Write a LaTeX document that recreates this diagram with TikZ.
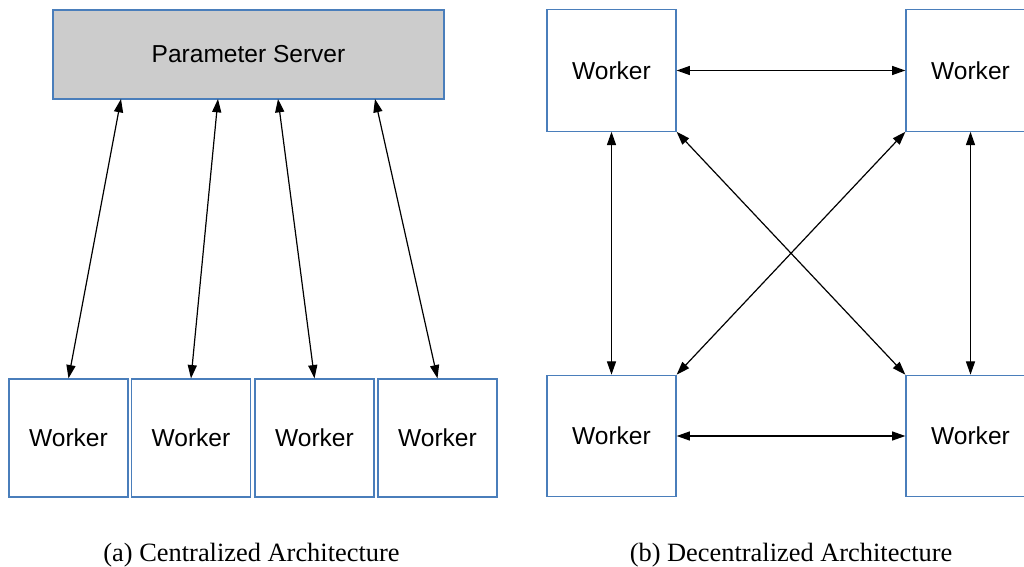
\documentclass[tikz,border=0pt]{standalone}
\usepackage{fontspec}
\setmainfont{Liberation Serif}
\newfontfamily\boxfont{Liberation Sans}
\usetikzlibrary{arrows.meta}
\definecolor{boxblue}{RGB}{74,126,187}
\definecolor{servergray}{RGB}{204,204,204}
\tikzset{
  unitbox/.style={draw=boxblue, line width=0.95pt, inner sep=0pt,
    font=\boxfont\fontsize{18.4}{22}\selectfont},
  workerbox/.style={unitbox, minimum width=89.25pt, minimum height=88.5pt},
  peerbox/.style={unitbox, minimum width=96.75pt, minimum height=91pt},
  serverbox/.style={unitbox, fill=servergray, minimum width=293.25pt, minimum height=66.75pt},
  link/.style={line width=0.9pt, {Triangle[length=10pt,width=6.8pt]}-{Triangle[length=10pt,width=6.8pt]}},
  caption/.style={anchor=base, font=\fontsize{19.8}{24}\selectfont}
}
\begin{document}
\begin{tikzpicture}[x=0.75pt, y=-0.75pt]
  \useasboundingbox (0,0) rectangle (1024,567);
  \clip (0,0) rectangle (1024,567);

  % centralized architecture: one server, four workers
  \node[serverbox] (ps) at (248.5,54.5) {Parameter Server};
  \node[workerbox] (w1) at (68.5,438) {Worker};
  \node[workerbox] (w2) at (191,438) {Worker};
  \node[workerbox] (w3) at (314.5,438) {Worker};
  \node[workerbox] (w4) at (437.5,438) {Worker};

  \coordinate (p1) at (121,99);
  \coordinate (p2) at (218,99);
  \coordinate (p3) at (278,99);
  \coordinate (p4) at (375,99);

  \draw[link] (w1.north) -- (p1);
  \draw[link] (w2.north) -- (p2);
  \draw[link] (w3.north) -- (p3);
  \draw[link] (w4.north) -- (p4);

  \node[caption] (capa) at (251.5,561) {(a) Centralized Architecture};

  % decentralized architecture: four fully connected peers
  \node[peerbox] (tl) at (611.5,70.5) {Worker};
  \node[peerbox] (tr) at (970.5,70.5) {Worker};
  \node[peerbox] (bl) at (611.5,436) {Worker};
  \node[peerbox] (br) at (970.5,436) {Worker};

  \draw[link] (tl.east) -- (tr.west);
  \draw[link] (bl.east) -- (br.west);
  \draw[link] (tl.south) -- (bl.north);
  \draw[link] (tr.south) -- (br.north);
  \draw[link] (tl.south east) -- (br.north west);
  \draw[link] (tr.south west) -- (bl.north east);

  \node[caption] (capb) at (791,561) {(b) Decentralized Architecture};
\end{tikzpicture}
\end{document}
